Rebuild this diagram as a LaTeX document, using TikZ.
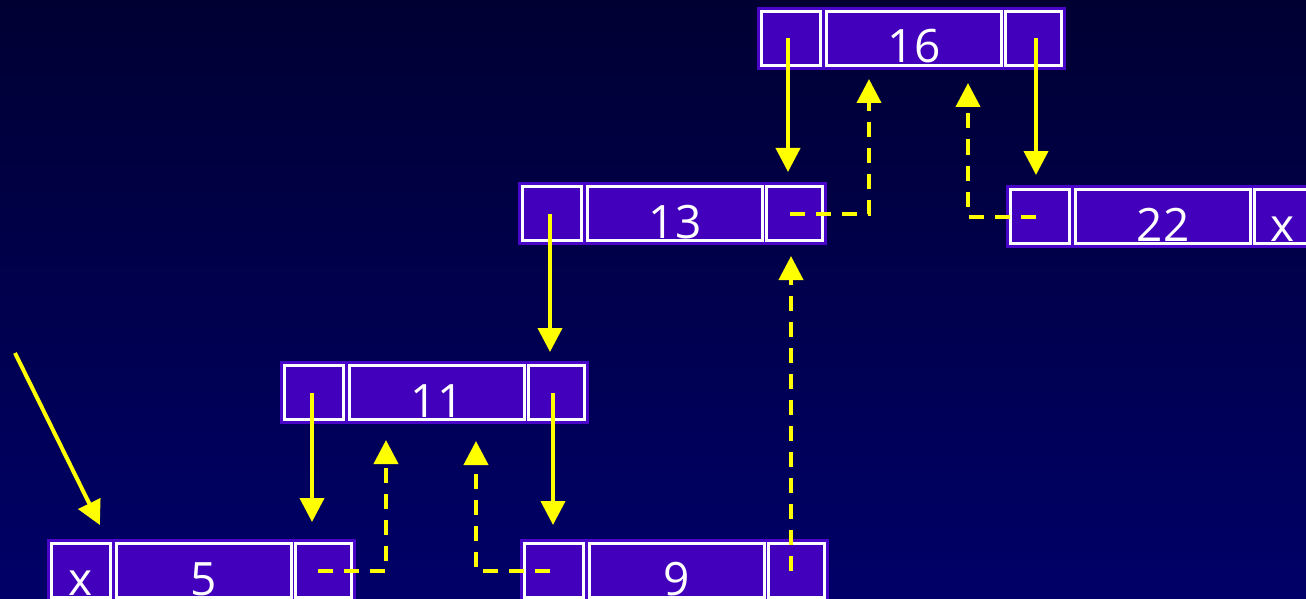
\documentclass[tikz,border=0pt]{standalone}
\usepackage{fontspec}
\setmainfont{Open Sans}
\usetikzlibrary{arrows.meta,calc}

\definecolor{bgtop}{HTML}{000033}
\definecolor{bgbot}{HTML}{000068}
\definecolor{cellfill}{HTML}{4300BC}
\definecolor{rim}{HTML}{4A06C8}
\definecolor{ptrcol}{HTML}{FFFF00}

\tikzset{
  cellbox/.style={draw=white, line width=3pt, fill=cellfill, minimum height=54pt,
    inner sep=0pt, outer sep=0pt, anchor=north west, text=white,
    font=\fontsize{46}{46}\selectfont, text height=49pt, text depth=0pt},
  rimbox/.style={fill=rim, draw=none, minimum width=309pt, minimum height=63pt,
    inner sep=0pt, outer sep=0pt, anchor=north west},
  ptr/.style={draw=ptrcol, line width=4pt, -{Triangle[width=24pt,length=24pt]}},
  parentptr/.style={ptr, dash pattern=on 15pt off 11pt},
}

% one list entry: name, x, y, left field, key, right field
\newcommand\drawentry[6]{%
  \node[rimbox] (#1) at (#2-3,#3-3) {};
  \node[cellbox, minimum width=59pt]  (#1-l) at (#2+1.5,#3+1.5)   {#4};
  \node[cellbox, minimum width=175pt] (#1-m) at (#2+66.5,#3+1.5)  {#5};
  \node[cellbox, minimum width=56pt]  (#1-r) at (#2+245.5,#3+1.5) {#6};
}

\begin{document}
\begin{tikzpicture}[x=1pt, y=-1pt]
  \useasboundingbox (0,0) rectangle (1306,599);
  \clip (0,0) rectangle (1306,599);
  \shade[top color=bgtop, bottom color=bgbot] (0,0) rectangle (1306,599);

  \drawentry{k16}{760}{10}{}{16}{}
  \drawentry{k13}{521}{185}{}{13}{}
  \drawentry{k22}{1009}{188}{}{22}{x}
  \drawentry{k11}{283}{364}{}{11}{}
  \drawentry{k5}{50}{542}{x}{5}{}
  \drawentry{k9}{523}{542}{}{9}{}

  % child pointers
  \draw[ptr, shorten >=14.5pt] ([xshift=-3pt]k16-l.center) -- ([xshift=-3pt]k16-l.center |- k13-r.north);
  \draw[ptr, shorten >=14.5pt] ([xshift=2.5pt]k16-r.center) -- ([xshift=2.5pt]k16-r.center |- k22-l.north);
  \draw[ptr, shorten >=13.5pt] ([xshift=-2pt]k13-l.center) -- ([xshift=-2pt]k13-l.center |- k11-r.north);
  \draw[ptr, shorten >=21.5pt] ([xshift=-2pt]k11-l.center) -- ([xshift=-2pt]k11-l.center |- k5-r.north);
  \draw[ptr, shorten >=18.5pt] ([xshift=-3.5pt]k11-r.center) -- ([xshift=-3.5pt]k11-r.center |- k9-l.north);

  % entry pointer
  \coordinate (head) at (15,353);
  \draw[ptr, shorten >=20.6pt] (head) -- ([xshift=-1.5pt]k5-l.north east);

  % parent pointers
  \draw[parentptr, shorten >=13.5pt] ([xshift=-5pt]k13-r.center) -| ([xshift=42.5pt]k16-m.south west);
  \draw[parentptr, shorten >=17.5pt] ([xshift=-4pt]k22-l.center) -| ([xshift=141.5pt]k16-m.south west);
  \draw[parentptr, shorten >=20.5pt] ([xshift=-5.5pt]k5-r.center) -| ([xshift=36.5pt]k11-m.south west);
  \draw[parentptr, shorten >=21.5pt] ([xshift=-4pt]k9-l.center) -| ([xshift=126.5pt]k11-m.south west);
  \draw[parentptr, shorten >=15.5pt] ([xshift=-5.5pt]k9-r.center) -- ([xshift=-5.5pt]k9-r.center |- k13-r.south);
\end{tikzpicture}
\end{document}
